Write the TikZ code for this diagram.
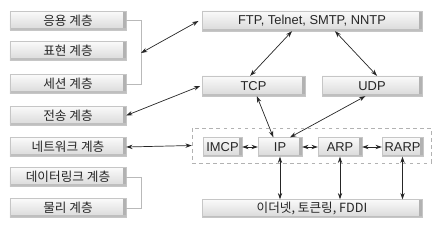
\documentclass[tikz,border=0pt]{standalone}
\usepackage{fontspec}
\setmainfont{Liberation Sans}
\newfontfamily\krfont{Noto Sans CJK KR}
\usetikzlibrary{arrows.meta}

\begin{document}
\begin{tikzpicture}[x=0.03cm, y=-0.03cm,
  bevelbox/.style={top color=gray!4, bottom color=gray!30, draw=gray!45,
    line width=0.3pt, inner sep=0pt, minimum height=0.6cm, text=black!85,
    font=\fontsize{11}{12}\selectfont,
    path picture={
      \fill[gray!60] (path picture bounding box.south east)
        rectangle ([xshift=-2.2pt]path picture bounding box.north east);
      \fill[gray!50] (path picture bounding box.south west)
        rectangle ([yshift=1.6pt]path picture bounding box.south east);}},
  layerbox/.style={bevelbox, minimum width=3.48cm, minimum height=0.56cm,
    font=\krfont\fontsize{10.8}{12}\selectfont},
  groupbox/.style={draw=gray!60, dashed, line width=0.4pt},
  bracketline/.style={gray!55, line width=0.4pt},
  linkarrow/.style={{Stealth[length=1.9mm,width=1.3mm]}-{Stealth[length=1.9mm,width=1.3mm]},
    line width=0.6pt, black!85}
]
\useasboundingbox (0,0) rectangle (433,234);
% OSI layers
\node[layerbox] (app) at (68,20.5) {응용 계층};
\node[layerbox] (pres) at (68,51) {표현 계층};
\node[layerbox] (sess) at (68,84) {세션 계층};
\node[layerbox] (trans) at (68,115.5) {전송 계층};
\node[layerbox] (net) at (68,147) {네트워크 계층};
\node[layerbox] (link) at (68,177) {데이터링크 계층};
\node[layerbox] (phys) at (68,208) {물리 계층};
% protocols
\node[bevelbox, minimum width=6.6cm] (apps) at (312,21) {FTP, Telnet, SMTP, NNTP};
\node[bevelbox, minimum width=3.09cm] (tcp) at (253.5,86) {TCP};
\node[bevelbox, minimum width=3.0cm] (udp) at (372,86) {UDP};
\node[groupbox, minimum width=7.17cm, minimum height=1.05cm] (netgroup) at (311.5,145.5) {};
\node[bevelbox, minimum width=1.17cm, minimum height=0.57cm] (imcp) at (222.5,147) {IMCP};
\node[bevelbox, minimum width=1.32cm, minimum height=0.57cm] (ip) at (280,147) {IP};
\node[bevelbox, minimum width=1.32cm, minimum height=0.57cm] (arp) at (340,147) {ARP};
\node[bevelbox, minimum width=1.23cm, minimum height=0.57cm] (rarp) at (402.5,147) {RARP};
\node[bevelbox, minimum width=6.6cm, minimum height=0.54cm,
  font=\krfont\fontsize{10.8}{12}\selectfont] (eth) at (312,208.5) {이더넷, 토큰링, FDDI};
% brackets
\coordinate (upper) at (141,53);
\coordinate (lower) at (141,192);
\draw[bracketline] (app.east) -- (app.east -| upper) -- (sess.east -| upper) -- (sess.east);
\draw[bracketline] (link.east) -- (link.east -| lower) -- (phys.east -| lower) -- (phys.east);
% connectors
\draw[linkarrow] (upper) -- ([xshift=-0.1cm]apps.west);
\draw[linkarrow] (trans.east) -- ([xshift=-0.05cm]tcp.west);
\draw[linkarrow] (net.east) -- (netgroup.west);
\draw[linkarrow] ([xshift=-0.6cm]apps.south) -- ([xshift=-0.1cm]tcp.north);
\draw[linkarrow] ([xshift=0.69cm]apps.south) -- ([xshift=0.15cm]udp.north);
\draw[linkarrow] ([xshift=0.1cm]tcp.south) -- ([xshift=-0.2cm]ip.north);
\draw[linkarrow] ([xshift=-0.2cm]udp.south) -- ([xshift=0.3cm]ip.north);
\foreach \a/\b in {imcp/ip,ip/arp,arp/rarp}
  \draw[linkarrow] (\a.east) -- (\b.west);
\foreach \p in {ip,arp,rarp}
  \draw[linkarrow] (\p.south) -- (\p.south |- eth.north);
\end{tikzpicture}
\end{document}
